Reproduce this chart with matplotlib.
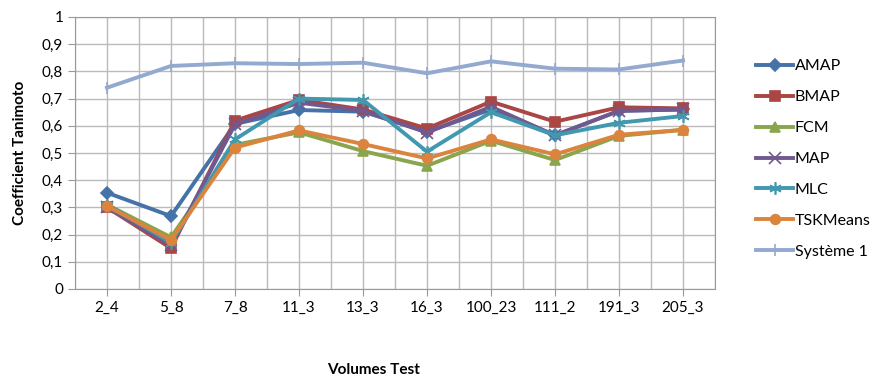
import matplotlib.pyplot as plt
from matplotlib.ticker import MultipleLocator, FuncFormatter

plt.rcParams['font.family'] = ['Lato', 'DejaVu Sans']

volumes = ['2_4', '5_8', '7_8', '11_3', '13_3', '16_3', '100_23', '111_2', '191_3', '205_3']

amap = [0.354, 0.268, 0.607, 0.658, 0.652, 0.578, 0.660, 0.565, 0.655, 0.660]
bmap = [0.300, 0.150, 0.619, 0.695, 0.660, 0.590, 0.689, 0.615, 0.668, 0.664]
fcm = [0.310, 0.190, 0.530, 0.576, 0.507, 0.453, 0.545, 0.474, 0.563, 0.585]
map_ = [0.300, 0.160, 0.605, 0.685, 0.655, 0.575, 0.670, 0.565, 0.655, 0.660]
mlc = [0.310, 0.170, 0.550, 0.700, 0.695, 0.505, 0.650, 0.565, 0.611, 0.636]
tskmeans = [0.305, 0.180, 0.520, 0.583, 0.533, 0.480, 0.550, 0.495, 0.567, 0.585]
systeme1 = [0.740, 0.820, 0.830, 0.827, 0.832, 0.793, 0.837, 0.810, 0.807, 0.840]

series = [
    ('AMAP', amap, '#4572A7', 'D', 6),
    ('BMAP', bmap, '#AA4643', 's', 7),
    ('FCM', fcm, '#89A54E', '^', 7),
    ('MAP', map_, '#71588F', 'x', 8),
    ('MLC', mlc, '#4198AF', (6, 2, 0), 9),
    ('TSKMeans', tskmeans, '#DB843D', 'o', 7),
    ('Système 1', systeme1, '#93A9CF', '|', 8),
]

fig = plt.figure(figsize=(8.77, 3.8), dpi=100)
ax = fig.add_axes([75 / 877, 1 - 289 / 380, 640 / 877, 272 / 380])

x = list(range(len(volumes)))
for name, vals, col, mk, ms in series:
    ax.plot(x, vals, color=col, lw=2.8, marker=mk, markersize=ms,
            markeredgewidth=1.2, markeredgecolor=col, label=name)

ax.set_xlim(-0.5, len(volumes) - 0.5)
ax.set_ylim(0, 1)
ax.yaxis.set_major_locator(MultipleLocator(0.1))
ax.yaxis.set_major_formatter(FuncFormatter(lambda v, p: ('%g' % round(v, 1)).replace('.', ',')))
ax.set_xticks(x)
ax.set_xticklabels(volumes)
ax.set_xticks([i - 0.5 for i in range(len(volumes) + 1)], minor=True)
ax.tick_params(axis='x', which='minor', length=0)
ax.grid(True, which='both', color='#BBBBBB', lw=1)
ax.set_axisbelow(True)
for s in ax.spines.values():
    s.set_color('#999999')
ax.tick_params(colors='#999999', labelcolor='black', labelsize=11, length=5)

ax.set_ylabel('Coefficient Tanimoto', fontsize=11, fontweight='bold', labelpad=11)
fig.text(374 / 877, 1 - 370 / 380, 'Volumes Test', fontsize=11, fontweight='bold',
         ha='center', va='center')

fig.legend(loc='center left', bbox_to_anchor=(742 / 877, 1 - 159 / 380), frameon=False,
           fontsize=11.5, handlelength=2.3, labelspacing=1.05, handletextpad=0.1)

fig.savefig('out.png', dpi=100)
